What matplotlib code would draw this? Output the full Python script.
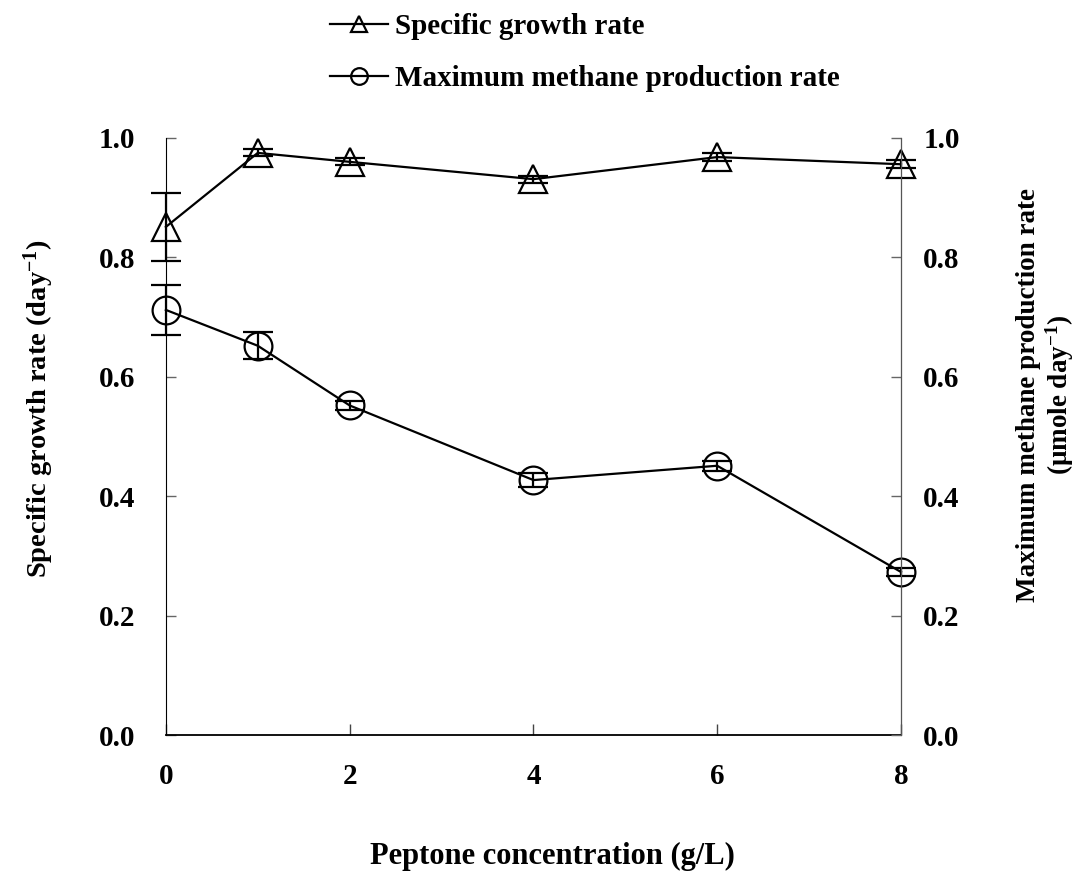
import matplotlib.pyplot as plt
from matplotlib.lines import Line2D

plt.rcParams['font.family'] = ['Liberation Serif', 'DejaVu Serif']
plt.rcParams['font.weight'] = 'bold'
plt.rcParams['mathtext.fontset'] = 'custom'
plt.rcParams['mathtext.rm'] = 'Liberation Serif:bold'
plt.rcParams['mathtext.bf'] = 'Liberation Serif:bold'
plt.rcParams['mathtext.default'] = 'bf'

peptone = [0, 1, 2, 4, 6, 8]  # g/L
growth_rate = [0.851, 0.975, 0.960, 0.931, 0.968, 0.956]  # day^-1
growth_err = [0.057, 0.006, 0.006, 0.006, 0.007, 0.007]
methane_rate = [0.712, 0.652, 0.552, 0.427, 0.451, 0.273]  # umole day^-1
methane_err = [0.042, 0.023, 0.008, 0.012, 0.008, 0.007]

xticks = [0, 2, 4, 6, 8]
yticks = [0.0, 0.2, 0.4, 0.6, 0.8, 1.0]

fig = plt.figure(figsize=(10.77, 8.81), dpi=100)
ax = fig.add_axes([0.154, 0.1657, 0.6826, 0.6777])
ax2 = ax.twinx()

style = dict(color='black', lw=1.6, ms=20, mfc='none', mec='black', mew=1.6,
             ecolor='black', elinewidth=1.6, capsize=11, capthick=1.6)
eb1 = ax.errorbar(peptone, growth_rate, yerr=growth_err, marker='^', **style)
eb2 = ax2.errorbar(peptone, methane_rate, yerr=methane_err, marker='o', **style)
for eb in (eb1, eb2):
    for art in eb.lines[:1] + eb.lines[1] + eb.lines[2]:
        art.set_clip_on(False)

for a in (ax, ax2):
    a.set_xlim(0, 8)
    a.set_ylim(0, 1.0)
    a.spines['top'].set_visible(False)

ax.set_xticks(xticks)
ax.set_yticks(yticks)
ax2.set_yticks(yticks)
ax.set_yticklabels([f'{v:.1f}' for v in yticks])
ax2.set_yticklabels([f'{v:.1f}' for v in yticks])

ax.spines['left'].set_color('black')
ax.spines['bottom'].set_linewidth(1.3)
ax2.spines['right'].set_color('#555555')
ax2.spines['left'].set_visible(False)
ax2.spines['bottom'].set_visible(False)

ax.tick_params(axis='x', direction='in', length=8, width=1, pad=20, labelsize=21, color='#444444')
ax.tick_params(axis='y', direction='in', length=7, width=1, pad=22, labelsize=21, color='#666666')
ax2.tick_params(axis='y', direction='in', length=7, width=1, pad=16, labelsize=21, color='#666666')

fig.text(0.036, 0.536, 'Specific growth rate (day$^{-1}$)', rotation=90,
         ha='center', va='center', fontsize=20.5)
fig.text(0.971, 0.552, 'Maximum methane production rate\n(\u03bcmole day$^{-1}$)',
         rotation=90, ha='center', va='center', fontsize=19.5, linespacing=1.1)
fig.text(0.513, 0.028, 'Peptone concentration (g/L)', ha='center', va='center', fontsize=22)

handles = [
    Line2D([], [], color='black', lw=1.6, marker='^', ms=12, mfc='none', mew=1.6),
    Line2D([], [], color='black', lw=1.6, marker='o', ms=12, mfc='none', mew=1.6),
]
fig.legend(handles, ['Specific growth rate', 'Maximum methane production rate'],
           loc='upper left', bbox_to_anchor=(0.306, 0.985), frameon=False,
           fontsize=21, handlelength=2.0, handletextpad=0.25, labelspacing=0.85,
           borderpad=0, borderaxespad=0)

fig.savefig('out.png', dpi=100)
